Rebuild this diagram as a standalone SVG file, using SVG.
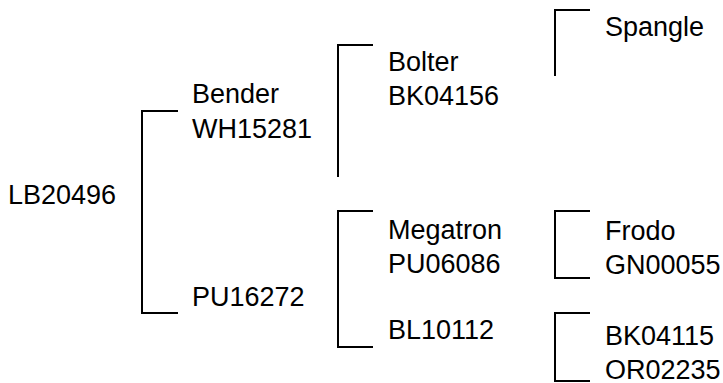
<svg xmlns="http://www.w3.org/2000/svg" width="723" height="383" viewBox="0 0 723 383">
<style>
text{font-family:"Liberation Sans",Arial,sans-serif;font-size:27px;fill:#000}
.c path{fill:none;stroke:#000;stroke-width:2}
</style>
<rect width="723" height="383" fill="#fff"/>
<g class="c" id="connectors">
<path d="M178,111H142V313H178"/>
<path d="M373,45H338V177"/>
<path d="M373,211H338V347H373"/>
<path d="M590,10H555V76"/>
<path d="M590,211H555V278H590"/>
<path d="M590,313H555V381H590"/>
</g>
<g id="n-LB20496"><text x="8" y="204">LB20496</text></g>
<g id="n-Bender"><text x="192" y="103">Bender</text><text x="192" y="137.5">WH15281</text></g>
<g id="n-PU16272"><text x="192" y="306">PU16272</text></g>
<g id="n-Bolter"><text x="388" y="71">Bolter</text><text x="388" y="104.5">BK04156</text></g>
<g id="n-Megatron"><text x="388" y="239">Megatron</text><text x="388" y="272.5">PU06086</text></g>
<g id="n-BL10112"><text x="388" y="338.5">BL10112</text></g>
<g id="n-Spangle"><text x="605" y="36">Spangle</text></g>
<g id="n-Frodo"><text x="605" y="240">Frodo</text><text x="605" y="273.5">GN00055</text></g>
<g id="n-BK04115"><text x="605" y="345">BK04115</text><text x="605" y="378.5">OR02235</text></g>
</svg>
